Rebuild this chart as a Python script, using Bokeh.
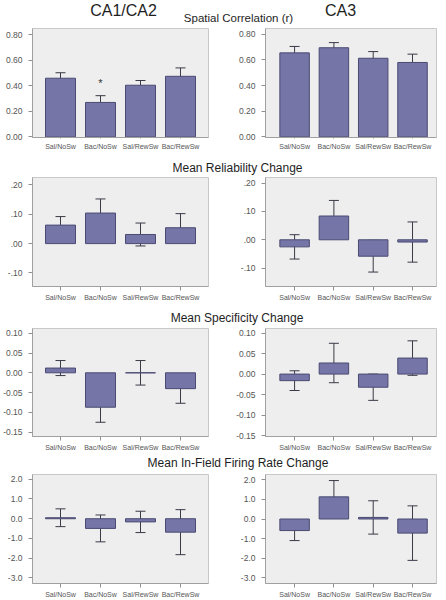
from bokeh.plotting import figure
from bokeh.models import Range1d, FixedTicker, ColumnDataSource, Whisker, TeeHead, Label
from bokeh.layouts import column, row
from bokeh.embed import file_html
from bokeh.resources import INLINE

# ---------------- data ----------------
groups = ["Sal/NoSw", "Bac/NoSw", "Sal/RewSw", "Bac/RewSw"]

corr_ca1_mean = [0.46, 0.27, 0.405, 0.475]
corr_ca1_sem = [0.043, 0.053, 0.037, 0.066]
corr_ca3_mean = [0.655, 0.695, 0.613, 0.58]
corr_ca3_sem = [0.05, 0.04, 0.052, 0.065]

rel_ca1_mean = [0.063, 0.104, 0.031, 0.054]
rel_ca1_sem = [0.029, 0.048, 0.039, 0.048]
rel_ca3_mean = [-0.025, 0.084, -0.058, -0.008]
rel_ca3_sem = [0.043, 0.055, 0.056, 0.071]

spec_ca1_mean = [0.012, -0.087, 0.000, -0.040]
spec_ca1_sem = [0.019, 0.038, 0.031, 0.037]
spec_ca3_mean = [-0.016, 0.027, -0.032, 0.039]
spec_ca3_sem = [0.024, 0.048, 0.032, 0.042]

rate_ca1_mean = [0.05, -0.49, -0.16, -0.68]
rate_ca1_sem = [0.45, 0.68, 0.54, 1.14]
rate_ca3_mean = [-0.59, 1.13, 0.08, -0.72]
rate_ca3_sem = [0.51, 0.83, 0.85, 1.39]

sig_group = "Bac/NoSw"
sig_text = "*"
sig_y = 0.47

corr_ticks = [0.0, 0.2, 0.4, 0.6, 0.8]
corr_labels = ["0.00", "0.20", "0.40", "0.60", "0.80"]
rel_ticks = [-0.1, 0.0, 0.1, 0.2]
rel_labels = ["-.10", ".00", ".10", ".20"]
spec_ticks = [-0.15, -0.1, -0.05, 0.0, 0.05, 0.1]
spec_labels = ["-0.15", "-0.10", "-0.05", "0.00", "0.05", "0.10"]
rate_ticks = [-3.0, -2.0, -1.0, 0.0, 1.0, 2.0]
rate_labels = ["-3.0", "-2.0", "-1.0", "0.0", "1.0", "2.0"]

col_titles = ["CA1/CA2", "CA3"]
row_titles = ["Spatial Correlation (r)", "Mean Reliability Change",
              "Mean Specificity Change", "Mean In-Field Firing Rate Change"]

# ---------------- style ----------------
FONT = "Liberation Sans"
BAR_FILL = "#7575a8"
BAR_LINE = "#4a4a72"
ERR = "#3a3a48"
BG = "#eeeeee"
TXT = "#555555"
W_TOTAL = 446


def panel(side, height, top, bottom, yr, means, sems, ticks, labels, tick_out, standoff):
    if side == "L":
        w, bl, br, xr = 223, 32, 15, (-0.7, 3.7)
    else:
        w, bl, br, xr = 223, 42, 10, (-0.74, 3.61)
    p = figure(width=w, height=height, x_range=Range1d(*xr), y_range=Range1d(*yr),
               title=None, toolbar_location=None, output_backend="svg",
               min_border_left=bl, min_border_right=br,
               min_border_top=top, min_border_bottom=bottom,
               background_fill_color=BG, border_fill_color="white",
               outline_line_color="#c8c8c8")
    xs = list(range(len(groups)))
    src = ColumnDataSource(dict(
        x=xs, top=means,
        lower=[m - s for m, s in zip(means, sems)],
        upper=[m + s for m, s in zip(means, sems)]))
    p.vbar(x="x", top="top", bottom=0, width=0.75, source=src,
           fill_color=BAR_FILL, line_color=BAR_LINE, line_width=1)
    wk = Whisker(base="x", upper="upper", lower="lower", source=src,
                 line_color=ERR, line_width=1,
                 upper_head=TeeHead(size=10, line_color=ERR, line_width=1),
                 lower_head=TeeHead(size=10, line_color=ERR, line_width=1))
    p.add_layout(wk)
    p.grid.visible = False
    xa = p.xaxis[0]
    xa.ticker = FixedTicker(ticks=xs)
    xa.major_label_overrides = {i: g for i, g in zip(xs, groups)}
    xa.major_tick_out = tick_out
    xa.major_tick_in = 0
    xa.minor_tick_out = 0
    xa.minor_tick_in = 0
    xa.major_label_standoff = standoff
    xa.major_label_text_font = FONT
    xa.major_label_text_font_size = "7px"
    xa.major_label_text_color = TXT
    xa.axis_line_color = "#a0a0a0"
    xa.major_tick_line_color = "#909090"
    ya = p.yaxis[0]
    ya.ticker = FixedTicker(ticks=ticks)
    ya.major_label_overrides = {t: l for t, l in zip(ticks, labels)}
    ya.major_tick_out = 4
    ya.major_tick_in = 0
    ya.minor_tick_out = 0
    ya.minor_tick_in = 0
    ya.major_label_standoff = 6
    ya.major_label_text_font = FONT
    ya.major_label_text_font_size = "8.5px"
    ya.major_label_text_color = TXT
    ya.axis_line_color = "#a0a0a0"
    ya.major_tick_line_color = "#909090"
    return p


def strip(height, items):
    p = figure(width=W_TOTAL, height=height, x_range=Range1d(0, W_TOTAL), y_range=Range1d(height, 0),
               title=None, toolbar_location=None, output_backend="svg", min_border=0,
               min_border_left=0, min_border_right=0, min_border_top=0, min_border_bottom=0,
               x_axis_location=None, y_axis_location=None,
               outline_line_color=None, background_fill_color="white",
               border_fill_color="white")
    p.grid.visible = False
    for (x, y, txt, size) in items:
        p.add_layout(Label(x=x, y=y, text=txt, text_align="center",
                           text_baseline="middle", text_font=FONT,
                           text_font_size=size, text_color="#1e1e1e"))
    return p


header = strip(26, [(123, 10, col_titles[0], "16px"), (340, 10, col_titles[1], "16px"),
                    (238, 17.5, row_titles[0], "11.5px")])

l1 = panel("L", 126, 2, 14, (-0.005, 0.85), corr_ca1_mean, corr_ca1_sem, corr_ticks, corr_labels, 1, 4)
r1 = panel("R", 126, 2, 14, (-0.005, 0.845), corr_ca3_mean, corr_ca3_sem, corr_ticks, corr_labels, 1, 4)
sig_x = groups.index(sig_group)
l1.add_layout(Label(x=sig_x, y=sig_y, text=sig_text, text_align="center", text_baseline="top",
                    text_font=FONT, text_font_size="11px", text_color="#333333"))

t2 = strip(23, [(237, 15, row_titles[1], "12px")])
l2 = panel("L", 128, 2, 16, (-0.146, 0.225), rel_ca1_mean, rel_ca1_sem, rel_ticks, rel_labels, 4, 3)
r2 = panel("R", 128, 2, 16, (-0.165, 0.22), rel_ca3_mean, rel_ca3_sem, rel_ticks, rel_labels, 4, 3)

t3 = strip(23, [(236.5, 14, row_titles[2], "12px")])
l3 = panel("L", 127, 2, 16, (-0.161, 0.112), spec_ca1_mean, spec_ca1_sem, spec_ticks, spec_labels, 4, 3)
r3 = panel("R", 127, 2, 16, (-0.152, 0.111), spec_ca3_mean, spec_ca3_sem, spec_ticks, spec_labels, 4, 3)

t4 = strip(18, [(237.5, 9, row_titles[3], "12px")])
l4 = panel("L", 129, 3, 17, (-3.28, 2.24), rate_ca1_mean, rate_ca1_sem, rate_ticks, rate_labels, 4, 3)
r4 = panel("R", 129, 3, 17, (-3.29, 2.27), rate_ca3_mean, rate_ca3_sem, rate_ticks, rate_labels, 4, 3)

layout = column(header, row(l1, r1), t2, row(l2, r2), t3, row(l3, r3), t4, row(l4, r4))

open("out.html", "w").write(file_html(layout, INLINE))
